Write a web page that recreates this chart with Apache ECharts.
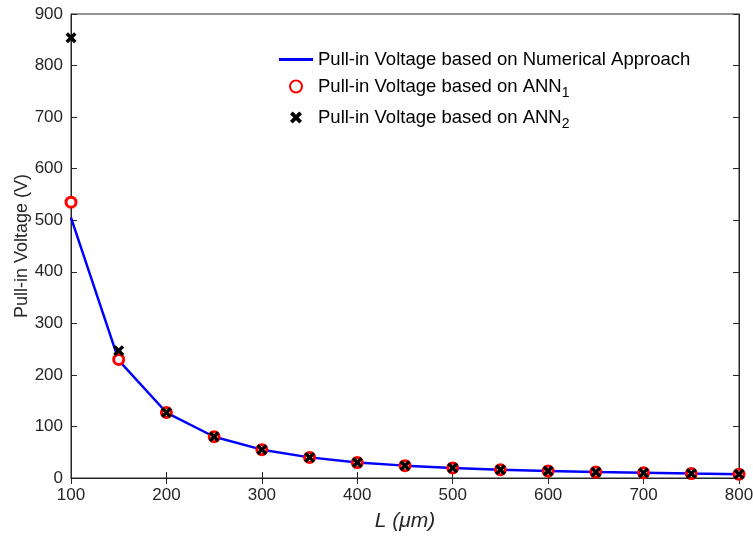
<!DOCTYPE html>
<html>
<head>
<meta charset="utf-8">
<script src="https://cdn.jsdelivr.net/npm/echarts@6/dist/echarts.min.js"></script>
<style>
  html, body { margin: 0; padding: 0; background: #fff; }
  #chart { width: 753px; height: 538px; }
</style>
</head>
<body>
<div id="chart"></div>
<script>
// beam length L (um)
const lengths = [100, 150, 200, 250, 300, 350, 400, 450, 500, 550, 600, 650, 700, 750, 800]
// pull-in voltage (V)
const numerical = [505, 228, 127, 80, 55, 40, 30, 24, 19.5, 16, 13.5, 11.5, 10, 8.5, 7.5]
const ann1 = [535, 230, 127, 80, 55, 40, 30, 24, 19.5, 16, 13.5, 11.5, 10, 8.5, 7.5]
const ann2 = [854, 247, 127, 80, 55, 40, 30, 24, 19.5, 16, 13.5, 11.5, 10, 8.5, 7.5]

const seriesNames = [
  'Pull-in Voltage based on Numerical Approach',
  'Pull-in Voltage based on ANN1',
  'Pull-in Voltage based on ANN2'
]

const toPairs = vals => lengths.map((l, i) => [l, vals[i]])

const crossPath = 'path://M2.2,0L5,2.8L7.8,0L10,2.2L7.2,5L10,7.8L7.8,10L5,7.2L2.2,10L0,7.8L2.8,5L0,2.2Z'
const axisColor = '#262626'
const font = 'Liberation Sans, Arial, sans-serif'

const chart = echarts.init(document.getElementById('chart'))

const option = {
  animation: false,
  textStyle: { fontFamily: font },
  grid: {
    left: 71, right: 14, top: 14, bottom: 60,
    outerBoundsMode: 'none',
    show: true, borderColor: axisColor, borderWidth: 1
  },
  legend: {
    orient: 'vertical',
    left: 279, top: 50,
    padding: 0,
    itemWidth: 34, itemHeight: 12, itemGap: 8,
    data: [
      { name: seriesNames[0], icon: 'path://M0,4.5L34,4.5L34,7.5L0,7.5Z' },
      { name: seriesNames[1] },
      { name: seriesNames[2] }
    ],
    formatter: name => name.replace(/ANN(\d)/, 'ANN{sub|$1}'),
    textStyle: {
      fontSize: 18.5, color: '#000', fontFamily: font,
      rich: {
        sub: { fontSize: 14, color: '#000', padding: [13, 0, 0, 0] }
      }
    }
  },
  xAxis: [
    {
      type: 'value', min: 100, max: 800, interval: 100,
      name: 'L (μm)', nameLocation: 'middle', nameGap: 33,
      nameTextStyle: { fontSize: 21, fontStyle: 'italic', color: axisColor, fontFamily: font },
      axisLine: { lineStyle: { color: axisColor } },
      axisTick: { inside: true, length: 6, lineStyle: { color: axisColor } },
      axisLabel: { fontSize: 17, color: axisColor, margin: 9 },
      splitLine: { show: false }
    },
    {
      type: 'value', position: 'top', min: 100, max: 800, interval: 100,
      axisLine: { lineStyle: { color: axisColor } },
      axisTick: { inside: true, length: 6, lineStyle: { color: axisColor } },
      axisLabel: { show: false },
      splitLine: { show: false }
    }
  ],
  yAxis: [
    {
      type: 'value', min: 0, max: 900, interval: 100,
      name: 'Pull-in Voltage (V)', nameLocation: 'middle', nameGap: 40,
      nameMoveOverlap: false,
      nameTextStyle: { fontSize: 18, color: axisColor, fontFamily: font },
      axisLine: { show: true, lineStyle: { color: axisColor } },
      axisTick: { show: true, inside: true, length: 6, lineStyle: { color: axisColor } },
      axisLabel: { fontSize: 17, color: axisColor, margin: 8 },
      splitLine: { show: false }
    },
    {
      type: 'value', position: 'right', min: 0, max: 900, interval: 100,
      axisLine: { show: true, lineStyle: { color: axisColor } },
      axisTick: { show: true, inside: true, length: 6, lineStyle: { color: axisColor } },
      axisLabel: { show: false },
      splitLine: { show: false }
    }
  ],
  series: [
    {
      name: seriesNames[0],
      type: 'line',
      data: toPairs(numerical),
      symbol: 'none',
      lineStyle: { color: '#0000ff', width: 2.5 },
      itemStyle: { color: '#0000ff' },
      z: 2
    },
    {
      name: seriesNames[1],
      type: 'scatter',
      data: toPairs(ann1),
      symbol: 'circle',
      symbolSize: 10,
      itemStyle: { color: '#fff', borderColor: '#ff0000', borderWidth: 3, opacity: 1 },
      z: 3
    },
    {
      name: seriesNames[2],
      type: 'scatter',
      data: toPairs(ann2),
      symbol: crossPath,
      symbolSize: 11,
      itemStyle: { color: '#000', opacity: 1 },
      z: 4
    }
  ]
}

chart.setOption(option)
</script>
</body>
</html>
